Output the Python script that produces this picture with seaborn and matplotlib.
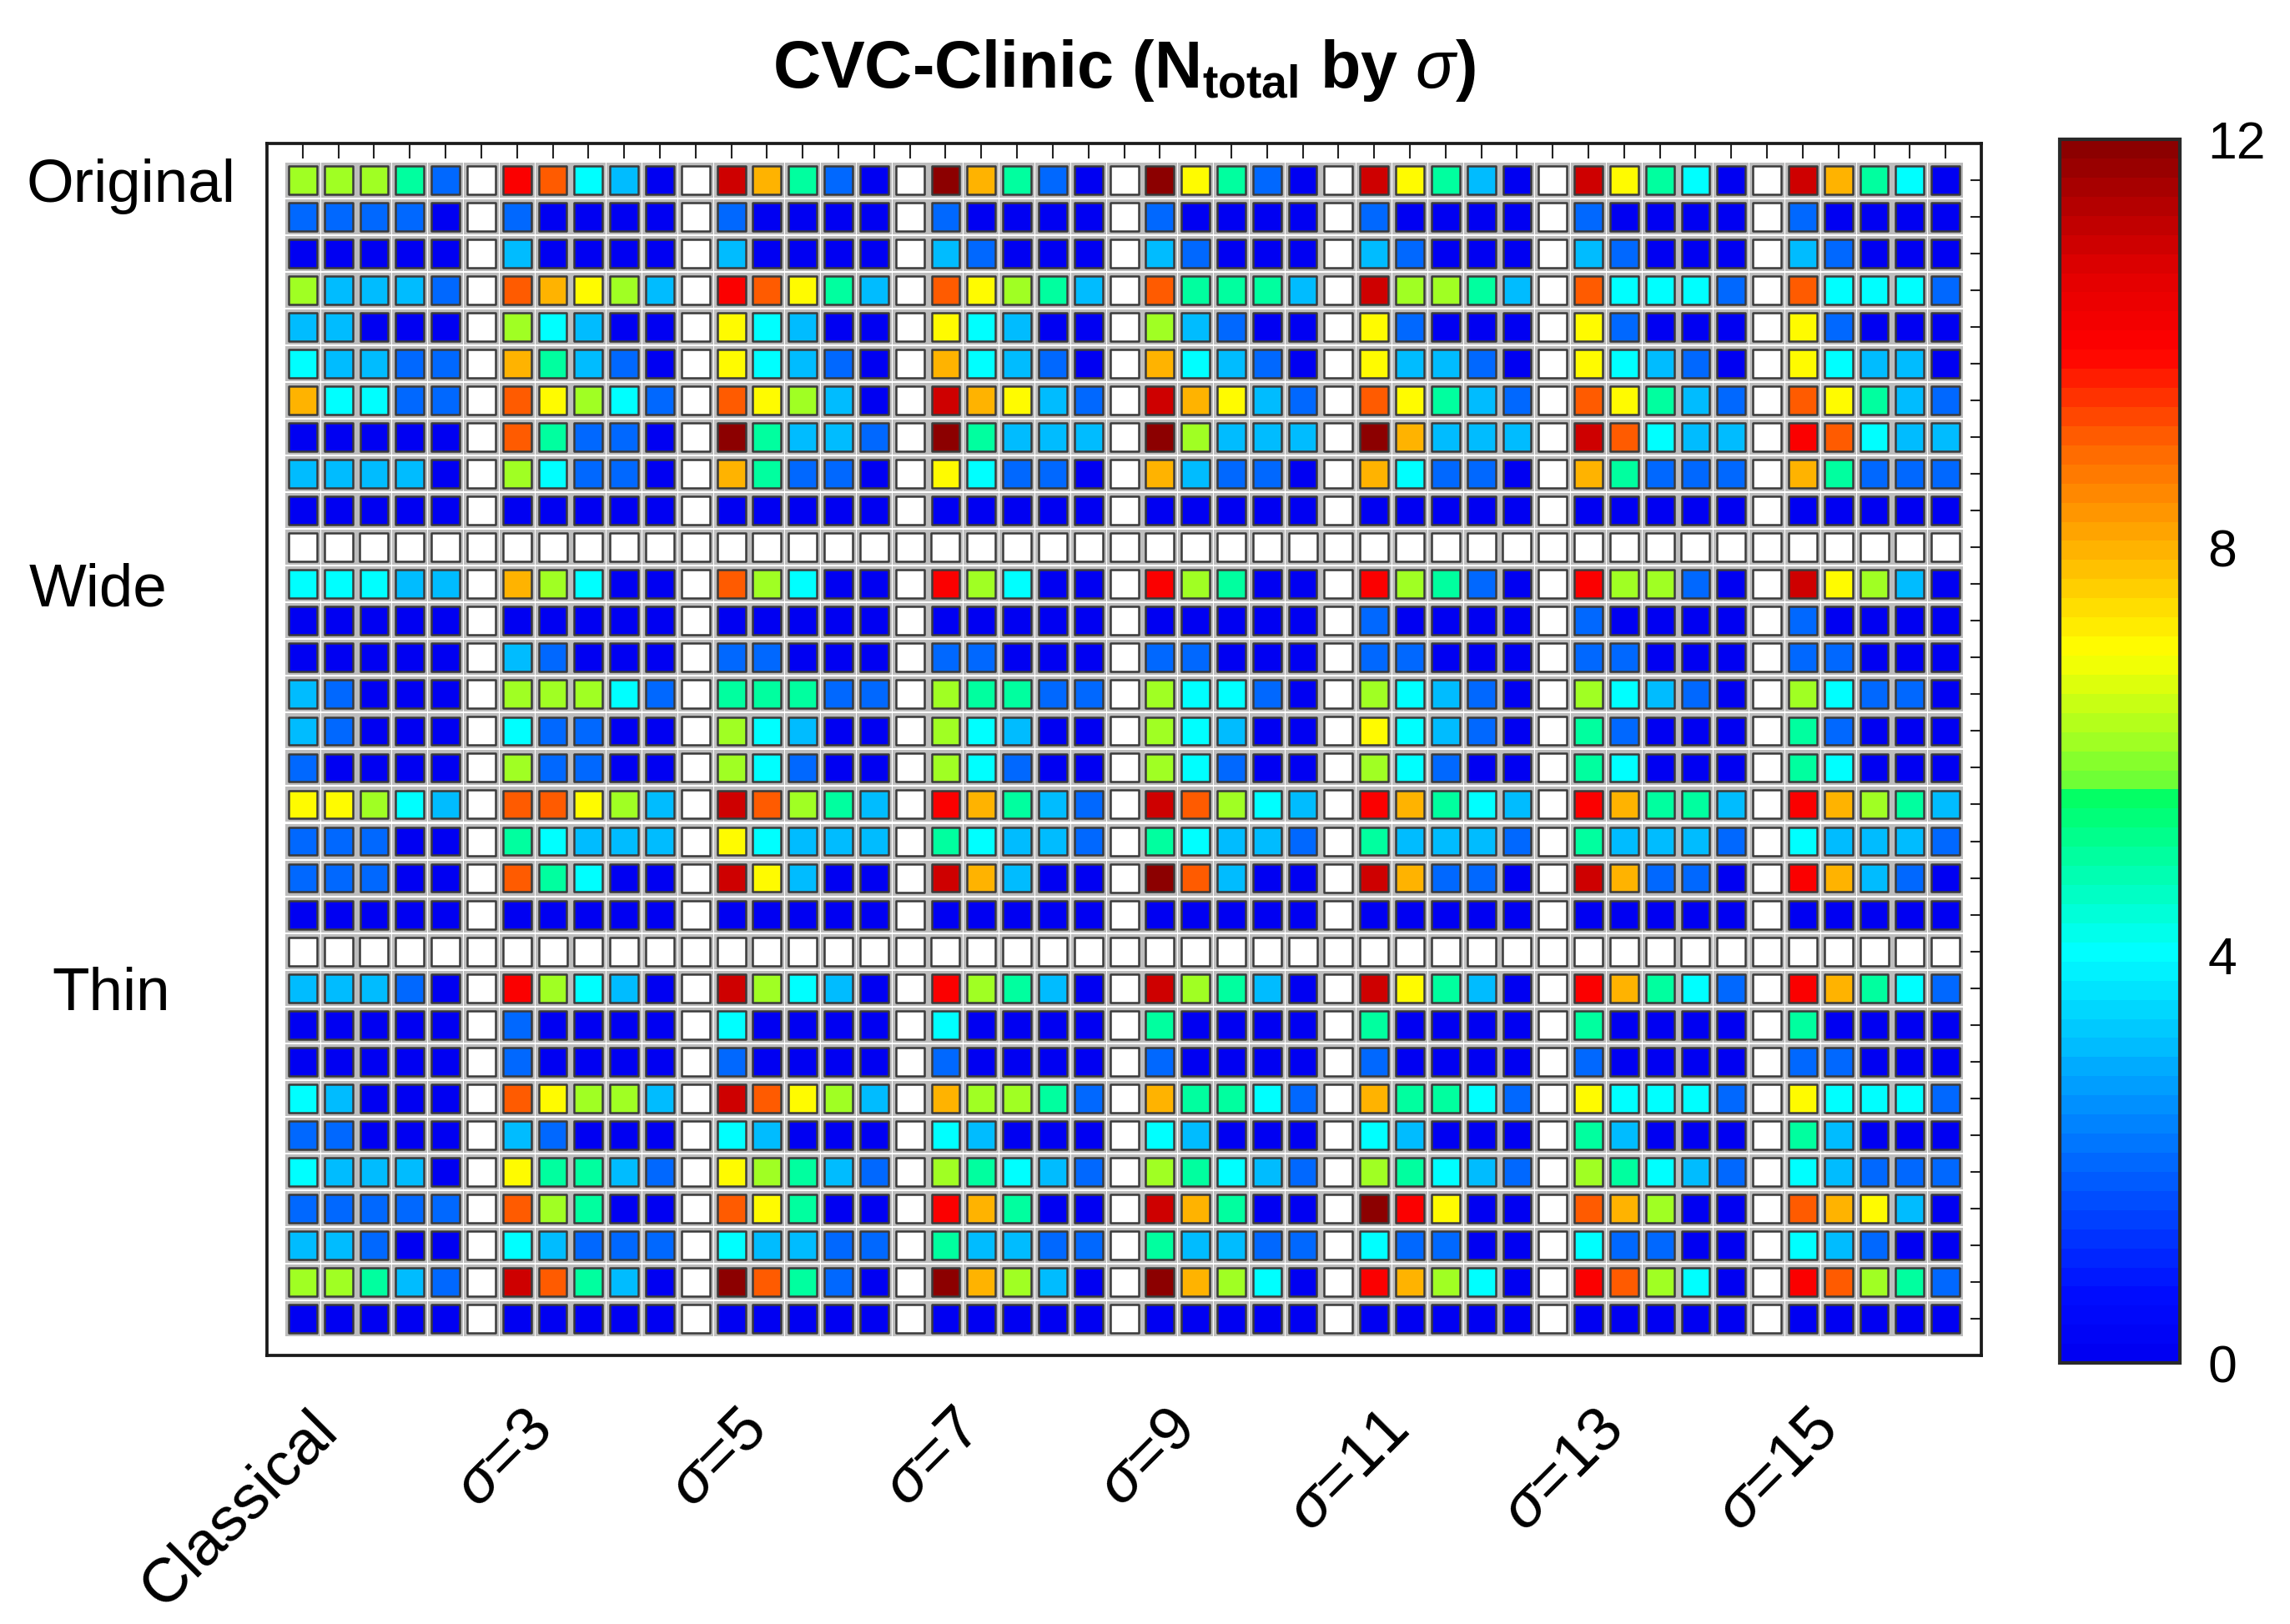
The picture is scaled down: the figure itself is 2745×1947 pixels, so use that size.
import numpy as np
import pandas as pd
import matplotlib
matplotlib.use("Agg")
import matplotlib.pyplot as plt
import seaborn as sns
from matplotlib import transforms
from matplotlib.colors import LinearSegmentedColormap, ListedColormap, Normalize

# ── Data ────────────────────────────────────────────────────────────────────
# column groups (5 columns each), separated by one blank column in the plot
methods = ["Classical", r"$\sigma$=3", r"$\sigma$=5", r"$\sigma$=7",
           r"$\sigma$=9", r"$\sigma$=11", r"$\sigma$=13", r"$\sigma$=15"]
row_groups = ["Original", "Wide", "Thin"]

# N_total per cell, 10 rows x (8 groups x 5 columns)
original = [
    [6, 6, 6, 5, 2, 10, 9, 4, 3, 0, 11, 8, 5, 2, 0, 12, 8, 5, 2, 0, 12, 7, 5, 2, 0, 11, 7, 5, 3, 0, 11, 7, 5, 4, 0, 11, 8, 5, 4, 0],
    [2, 2, 2, 2, 0, 2, 0, 0, 0, 0, 2, 0, 0, 0, 0, 2, 0, 0, 0, 0, 2, 0, 0, 0, 0, 2, 0, 0, 0, 0, 2, 0, 0, 0, 0, 2, 0, 0, 0, 0],
    [0, 0, 0, 0, 0, 3, 0, 0, 0, 0, 3, 0, 0, 0, 0, 3, 2, 0, 0, 0, 3, 2, 0, 0, 0, 3, 2, 0, 0, 0, 3, 2, 0, 0, 0, 3, 2, 0, 0, 0],
    [6, 3, 3, 3, 2, 9, 8, 7, 6, 3, 10, 9, 7, 5, 3, 9, 7, 6, 5, 3, 9, 5, 5, 5, 3, 11, 6, 6, 5, 3, 9, 4, 4, 4, 2, 9, 4, 4, 4, 2],
    [3, 3, 0, 0, 0, 6, 4, 3, 0, 0, 7, 4, 3, 0, 0, 7, 4, 3, 0, 0, 6, 3, 2, 0, 0, 7, 2, 0, 0, 0, 7, 2, 0, 0, 0, 7, 2, 0, 0, 0],
    [4, 3, 3, 2, 2, 8, 5, 3, 2, 0, 7, 4, 3, 2, 0, 8, 4, 3, 2, 0, 8, 4, 3, 2, 0, 7, 3, 3, 2, 0, 7, 4, 3, 2, 0, 7, 4, 3, 3, 0],
    [8, 4, 4, 2, 2, 9, 7, 6, 4, 2, 9, 7, 6, 3, 0, 11, 8, 7, 3, 2, 11, 8, 7, 3, 2, 9, 7, 5, 3, 2, 9, 7, 5, 3, 2, 9, 7, 5, 3, 2],
    [0, 0, 0, 0, 0, 9, 5, 2, 2, 0, 12, 5, 3, 3, 2, 12, 5, 3, 3, 3, 12, 6, 3, 3, 3, 12, 8, 3, 3, 3, 11, 9, 4, 3, 3, 10, 9, 4, 3, 3],
    [3, 3, 3, 3, 0, 6, 4, 2, 2, 0, 8, 5, 2, 2, 0, 7, 4, 2, 2, 0, 8, 3, 2, 2, 0, 8, 4, 2, 2, 0, 8, 5, 2, 2, 2, 8, 5, 2, 2, 2],
    [0] * 40,
]
wide = [
    [4, 4, 4, 3, 3, 8, 6, 4, 0, 0, 9, 6, 4, 0, 0, 10, 6, 4, 0, 0, 10, 6, 5, 0, 0, 10, 6, 5, 2, 0, 10, 6, 6, 2, 0, 11, 7, 6, 3, 0],
    [0, 0, 0, 0, 0, 0, 0, 0, 0, 0, 0, 0, 0, 0, 0, 0, 0, 0, 0, 0, 0, 0, 0, 0, 0, 2, 0, 0, 0, 0, 2, 0, 0, 0, 0, 2, 0, 0, 0, 0],
    [0, 0, 0, 0, 0, 3, 2, 0, 0, 0, 2, 2, 0, 0, 0, 2, 2, 0, 0, 0, 2, 2, 0, 0, 0, 2, 2, 0, 0, 0, 2, 2, 0, 0, 0, 2, 2, 0, 0, 0],
    [3, 2, 0, 0, 0, 6, 6, 6, 4, 2, 5, 5, 5, 2, 2, 6, 5, 5, 2, 2, 6, 4, 4, 2, 0, 6, 4, 3, 2, 0, 6, 4, 3, 2, 0, 6, 4, 2, 2, 0],
    [3, 2, 0, 0, 0, 4, 2, 2, 0, 0, 6, 4, 3, 0, 0, 6, 4, 3, 0, 0, 6, 4, 3, 0, 0, 7, 4, 3, 2, 0, 5, 2, 0, 0, 0, 5, 2, 0, 0, 0],
    [2, 0, 0, 0, 0, 6, 2, 2, 0, 0, 6, 4, 2, 0, 0, 6, 4, 2, 0, 0, 6, 4, 2, 0, 0, 6, 4, 2, 0, 0, 5, 4, 0, 0, 0, 5, 4, 0, 0, 0],
    [7, 7, 6, 4, 3, 9, 9, 7, 6, 3, 11, 9, 6, 5, 3, 10, 8, 5, 3, 2, 11, 9, 6, 4, 3, 10, 8, 5, 4, 3, 10, 8, 5, 5, 3, 10, 8, 6, 5, 3],
    [2, 2, 2, 0, 0, 5, 4, 3, 3, 3, 7, 4, 3, 3, 3, 5, 4, 3, 3, 2, 5, 4, 3, 3, 2, 5, 3, 3, 3, 2, 5, 3, 3, 3, 2, 4, 3, 3, 3, 2],
    [2, 2, 2, 0, 0, 9, 5, 4, 0, 0, 11, 7, 3, 0, 0, 11, 8, 3, 0, 0, 12, 9, 3, 0, 0, 11, 8, 2, 2, 0, 11, 8, 2, 2, 0, 10, 8, 3, 2, 0],
    [0] * 40,
]
thin = [
    [3, 3, 3, 2, 0, 10, 6, 4, 3, 0, 11, 6, 4, 3, 0, 10, 6, 5, 3, 0, 11, 6, 5, 3, 0, 11, 7, 5, 3, 0, 10, 8, 5, 4, 2, 10, 8, 5, 4, 2],
    [0, 0, 0, 0, 0, 2, 0, 0, 0, 0, 4, 0, 0, 0, 0, 4, 0, 0, 0, 0, 5, 0, 0, 0, 0, 5, 0, 0, 0, 0, 5, 0, 0, 0, 0, 5, 0, 0, 0, 0],
    [0, 0, 0, 0, 0, 2, 0, 0, 0, 0, 2, 0, 0, 0, 0, 2, 0, 0, 0, 0, 2, 0, 0, 0, 0, 2, 0, 0, 0, 0, 2, 0, 0, 0, 0, 2, 2, 0, 0, 0],
    [4, 3, 0, 0, 0, 9, 7, 6, 6, 3, 11, 9, 7, 6, 3, 8, 6, 6, 5, 2, 8, 5, 5, 4, 2, 8, 5, 5, 4, 2, 7, 4, 4, 4, 2, 7, 4, 4, 4, 2],
    [2, 2, 0, 0, 0, 3, 2, 0, 0, 0, 4, 3, 0, 0, 0, 4, 3, 0, 0, 0, 4, 3, 0, 0, 0, 4, 3, 0, 0, 0, 5, 3, 0, 0, 0, 5, 3, 0, 0, 0],
    [4, 3, 3, 3, 0, 7, 5, 5, 3, 2, 7, 6, 5, 3, 2, 6, 5, 4, 3, 2, 6, 5, 4, 3, 2, 6, 5, 4, 3, 2, 6, 5, 4, 3, 2, 4, 3, 2, 2, 2],
    [2, 2, 2, 2, 2, 9, 6, 5, 0, 0, 9, 7, 5, 0, 0, 10, 8, 5, 0, 0, 11, 8, 5, 0, 0, 12, 10, 7, 0, 0, 9, 8, 6, 0, 0, 9, 8, 7, 3, 0],
    [3, 3, 2, 0, 0, 4, 3, 2, 2, 2, 4, 3, 3, 2, 2, 5, 3, 3, 2, 2, 5, 3, 3, 2, 2, 4, 2, 2, 0, 0, 4, 2, 2, 0, 0, 4, 3, 2, 0, 0],
    [6, 6, 5, 3, 2, 11, 9, 5, 3, 0, 12, 9, 5, 2, 0, 12, 8, 6, 3, 0, 12, 8, 6, 4, 0, 10, 8, 6, 4, 0, 10, 9, 6, 4, 0, 10, 9, 6, 5, 2],
    [0] * 40,
]

GROUP = 5

# ── Assemble grid: blank column between groups, blank row between blocks ──
rows = []
for b, block in enumerate([original, wide, thin]):
    if b:
        rows.append([np.nan] * (len(methods) * (GROUP + 1) - 1))
    for vals in block:
        line = []
        for g in range(len(methods)):
            if g:
                line.append(np.nan)
            line.extend(vals[g * GROUP:(g + 1) * GROUP])
        rows.append(line)
grid = np.array(rows, dtype=float)
n_rows, n_cols = grid.shape

yy, xx = np.mgrid[1:n_rows + 1, 1:n_cols + 1]
df = pd.DataFrame({"col": xx.ravel(), "row": yy.ravel(), "value": grid.ravel()})
cells = df.dropna()
blank = df[df["value"].isna()]

label_cols = [1 + g * (GROUP + 1) for g in range(len(methods))]
label_rows = [1 + b * 11 for b in range(len(row_groups))]

# ── Colormap: jet-like, starts at pure blue, stepped like the original ────
anchors = [
    (0.0, (0.0, 0.0, 0.95)),
    (0.6, (0.0, 0.05, 1.0)),
    (4.0, (0.0, 1.0, 1.0)),
    (5.5, (0.0, 1.0, 0.4)),
    (5.7, (0.45, 1.0, 0.2)),
    (7.0, (1.0, 1.0, 0.0)),
    (8.0, (1.0, 0.7, 0.0)),
    (9.2, (1.0, 0.35, 0.0)),
    (10.0, (1.0, 0.0, 0.0)),
    (10.8, (0.88, 0.0, 0.0)),
    (12.0, (0.55, 0.0, 0.0)),
]
smooth = LinearSegmentedColormap.from_list("cvc", [(v / 12, c) for v, c in anchors])
cmap = ListedColormap(smooth(np.linspace(0, 1, 64)))

# ── Figure ──────────────────────────────────────────────────────────────────
sns.set_style("white")
plt.rcParams["font.family"] = ["Liberation Sans", "DejaVu Sans"]
plt.rcParams["mathtext.fontset"] = "custom"
plt.rcParams["mathtext.rm"] = "Liberation Sans"
plt.rcParams["mathtext.it"] = "Liberation Sans:italic"
plt.rcParams["mathtext.bf"] = "Liberation Sans:bold"
plt.rcParams["text.color"] = "black"
plt.rcParams["xtick.labelcolor"] = "black"
plt.rcParams["ytick.labelcolor"] = "black"

fig = plt.figure(figsize=(9.15, 6.49), dpi=300)
ax = fig.add_axes([0.1166, 0.1654, 0.7486, 0.7463])
cax = fig.add_axes([0.8995, 0.1607, 0.0525, 0.7535])

edge = "#3a3a3a"
# light grey halo behind every cell
sns.scatterplot(data=df, x="col", y="row", color="#bdbdbd", marker="s",
                s=98, linewidth=0, legend=False, ax=ax)
sns.scatterplot(data=blank, x="col", y="row", color="white", marker="s",
                s=66, edgecolor=edge, linewidth=0.6, legend=False, ax=ax)
sns.scatterplot(data=cells, x="col", y="row", hue="value", palette=cmap,
                hue_norm=(0, 12), marker="s", s=66, edgecolor=edge,
                linewidth=0.6, legend=False, ax=ax)

ax.set_xlim(0, n_cols + 1)
ax.set_ylim(n_rows + 1, 0)
ax.set_xlabel("")
ax.set_ylabel("")

ax.set_xticks(range(1, n_cols + 1), minor=True)
ax.set_xticks(label_cols)
ax.set_xticklabels(methods, rotation=45, ha="right", va="top",
                   rotation_mode="anchor")
ax.set_yticks(range(1, n_rows + 1), minor=True)
ax.set_yticks(label_rows)
ax.set_yticklabels(row_groups)

ax.tick_params(which="both", direction="in", top=True, right=True,
               width=0.5, color="#222222")
ax.tick_params(axis="x", which="both", length=4.3, pad=13, labelsize=18)
ax.tick_params(axis="y", which="both", length=3.2, pad=9, labelsize=17.5)
for spine in ax.spines.values():
    spine.set_linewidth(0.9)
    spine.set_color("#1a1a1a")

# nudge labels the way the original layout has them
for lab in ax.get_xticklabels():
    lab.set_transform(lab.get_transform()
                      + transforms.ScaledTranslation(6 / 300, 0, fig.dpi_scale_trans))
ylabs = ax.get_yticklabels()
for lab, dx in zip(ylabs, [0, -82, -79]):
    lab.set_transform(lab.get_transform()
                      + transforms.ScaledTranslation(dx / 300, 0, fig.dpi_scale_trans))

ax.set_title(r"CVC-Clinic (N$_{\mathbf{total}}$ by $\sigma$)",
             fontsize=19, fontweight="bold", pad=16, color="black")

# colour bar
sm = plt.cm.ScalarMappable(norm=Normalize(0, 12), cmap=cmap)
cbar = fig.colorbar(sm, cax=cax, ticks=[0, 4, 8, 12])
cbar.ax.set_yticks(range(13), minor=True)
cbar.ax.tick_params(which="both", direction="in", length=2.4, width=0.5,
                    color="#222222", labelsize=15, pad=8, labelcolor="black")
cbar.outline.set_linewidth(1.0)
cbar.outline.set_edgecolor("#2a2a2a")

fig.savefig("out.png", dpi=300, facecolor="white")
plt.close(fig)
